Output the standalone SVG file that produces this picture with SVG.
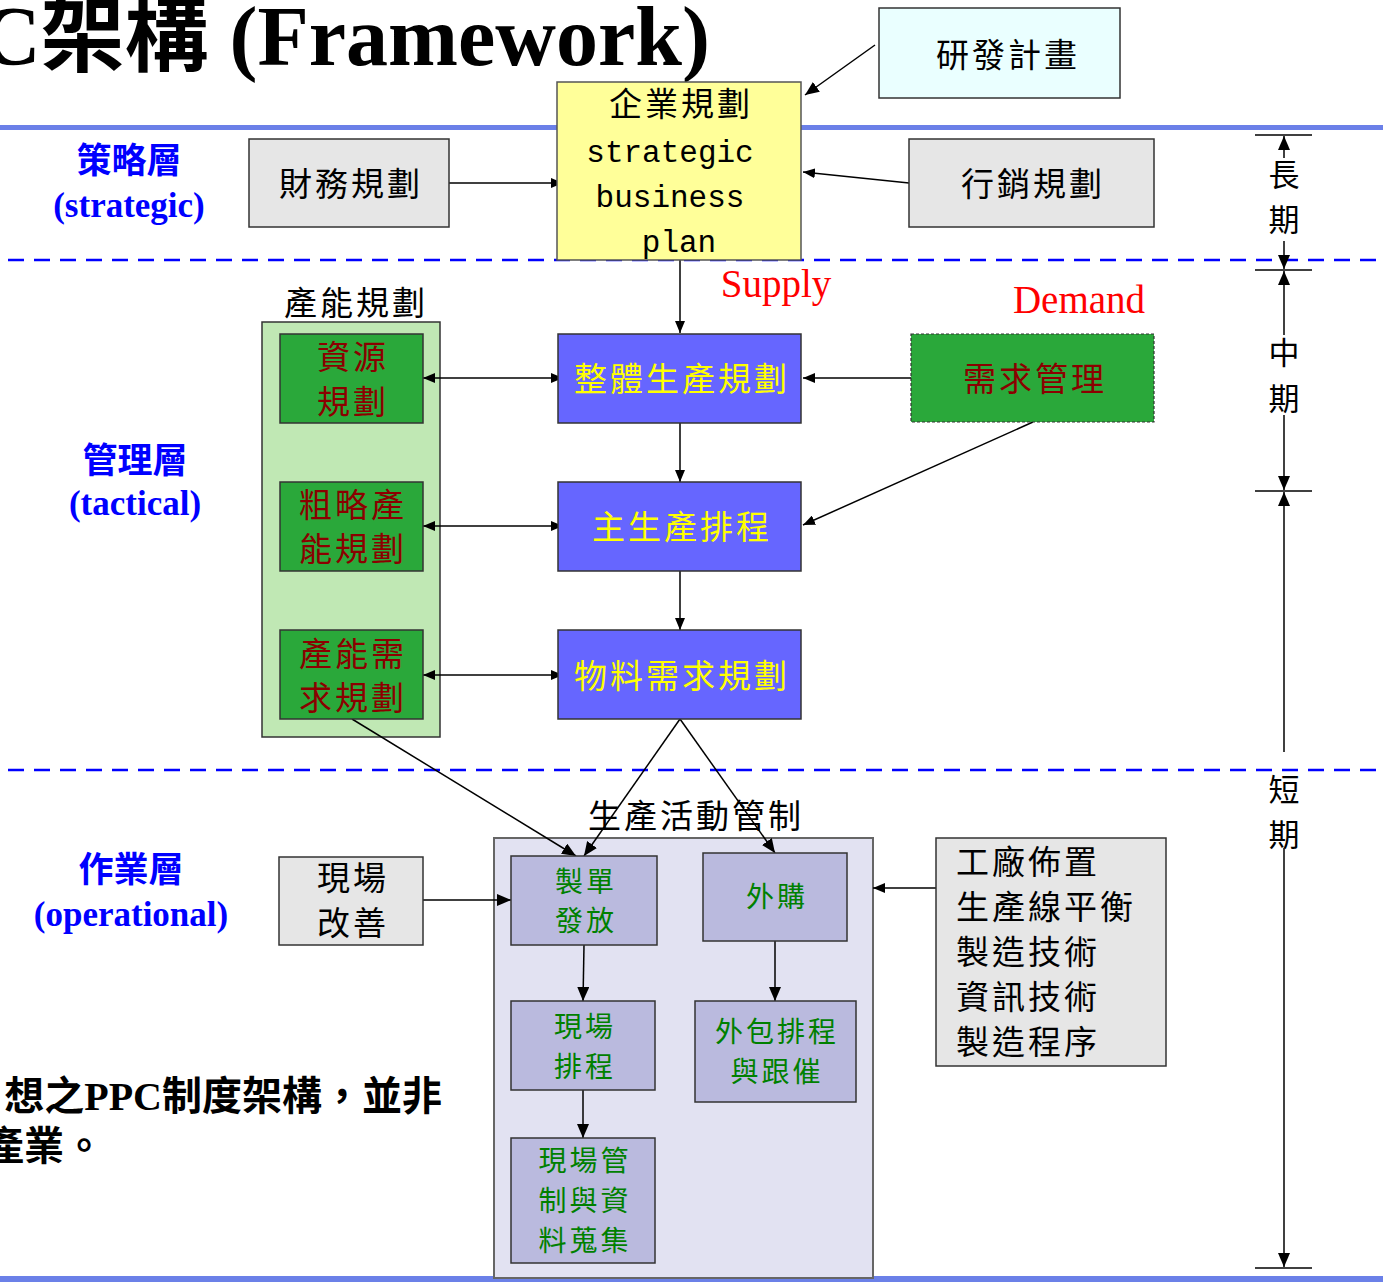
<svg xmlns="http://www.w3.org/2000/svg" width="1383" height="1283" viewBox="0 0 1383 1283">
<style>
.lbl{font-family:"Liberation Serif","Noto Sans CJK TC",serif;font-weight:bold;fill:#0000ff;font-size:35px;text-anchor:middle;}
.t34{font-family:"Noto Sans CJK TC",sans-serif;font-size:33px;text-anchor:middle;letter-spacing:3px;}
.sm{font-size:28px;}
.box{stroke:#333;stroke-width:1.5;}
.gray{fill:#e6e6e6;}
.grn{fill:#2aa83a;}
.blu{fill:#6666ff;}
.lav{fill:#babade;}
.red{fill:#8b0000;}
.yel{fill:#ffff00;}
.gtx{fill:#008000;}
.conn line,.conn path{stroke:#000;stroke-width:1.5;fill:none;}
</style>
<defs>
<marker id="ah" viewBox="0 0 12 10" refX="12" refY="5" markerWidth="12" markerHeight="10" markerUnits="userSpaceOnUse" orient="auto-start-reverse">
<path d="M0,0 L12,5 L0,10 Z" fill="#000"/>
</marker>
<marker id="ahL" viewBox="0 0 14 12" refX="14" refY="6" markerWidth="14" markerHeight="12" markerUnits="userSpaceOnUse" orient="auto-start-reverse">
<path d="M0,0 L14,6 L0,12 Z" fill="#000"/>
</marker>
</defs>
<rect width="1383" height="1283" fill="#fff"/>

<g id="bands">
<rect x="0" y="125" width="1383" height="5" fill="#6b80e8"/>
<rect x="0" y="1276" width="1383" height="6" fill="#6b80e8"/>
<line x1="8" y1="260" x2="1383" y2="260" stroke="#0000ff" stroke-width="2.5" stroke-dasharray="16,10"/>
<line x1="8" y1="770" x2="1383" y2="770" stroke="#0000ff" stroke-width="2.5" stroke-dasharray="16,10"/>
</g>

<text x="710" y="65" text-anchor="end" font-family="Liberation Serif,'Noto Sans CJK TC',serif" font-weight="bold" font-size="84">C架構 (Framework)</text>

<g id="layer-strategic"><text class="lbl" x="129" y="173">策略層</text><text class="lbl" x="129" y="217">(strategic)</text></g>
<g id="layer-tactical"><text class="lbl" x="135" y="473">管理層</text><text class="lbl" x="135" y="515">(tactical)</text></g>
<g id="layer-operational"><text class="lbl" x="131" y="882">作業層</text><text class="lbl" x="131" y="926">(operational)</text></g>

<g id="note" font-family="Liberation Serif,'Noto Sans CJK TC',serif" font-weight="bold" font-size="40" text-anchor="end">
<text x="442" y="1110">想之PPC制度架構，並非</text>
<text x="104" y="1160">產業。</text>
</g>

<g id="capacity-planning">
<rect x="262" y="322" width="178" height="415" fill="#c0e8b4" class="box"/>
<text class="t34" x="356" y="315" font-size="32">產能規劃</text>
</g>
<g id="production-activity-control">
<rect x="494" y="838" width="379" height="440" fill="#e2e2f2" stroke="#666" stroke-width="2"/>
<text class="t34" x="696" y="828" font-size="32">生產活動管制</text>
</g>

<g id="connectors" class="conn">
<line x1="875" y1="45" x2="805" y2="95" marker-end="url(#ahL)"/>
<line x1="449" y1="183" x2="563" y2="183" marker-end="url(#ah)"/>
<line x1="909" y1="183" x2="803" y2="172" marker-end="url(#ah)"/>
<line x1="680" y1="260" x2="680" y2="333" marker-end="url(#ah)"/>
<line x1="423" y1="378" x2="563" y2="378" marker-start="url(#ah)" marker-end="url(#ah)"/>
<line x1="423" y1="526" x2="563" y2="526" marker-start="url(#ah)" marker-end="url(#ah)"/>
<line x1="423" y1="675" x2="563" y2="675" marker-start="url(#ah)" marker-end="url(#ah)"/>
<line x1="911" y1="378" x2="803" y2="378" marker-end="url(#ah)"/>
<line x1="1033" y1="422" x2="803" y2="525" marker-end="url(#ah)"/>
<line x1="680" y1="423" x2="680" y2="482" marker-end="url(#ah)"/>
<line x1="680" y1="571" x2="680" y2="630" marker-end="url(#ah)"/>
<line x1="680" y1="719" x2="584" y2="856" marker-end="url(#ahL)"/>
<line x1="680" y1="719" x2="775" y2="853" marker-end="url(#ahL)"/>
<line x1="352" y1="719" x2="576" y2="856" marker-end="url(#ahL)"/>
<line x1="423" y1="900" x2="511" y2="900" marker-end="url(#ahL)"/>
<line x1="936" y1="888" x2="873" y2="888" marker-end="url(#ah)"/>
<line x1="584" y1="945" x2="583" y2="1001" marker-end="url(#ahL)"/>
<line x1="583" y1="1090" x2="583" y2="1138" marker-end="url(#ahL)"/>
<line x1="775" y1="941" x2="775" y2="1001" marker-end="url(#ahL)"/>
</g>

<g id="rd-plan">
<rect x="879" y="8" width="241" height="90" fill="#eaffff" class="box"/>
<text class="t34" x="1008" y="67" font-size="34" letter-spacing="8">研發計畫</text>
</g>
<g id="strategic-business-plan">
<rect x="557" y="82" width="244" height="178" fill="#ffff99" stroke="#555" stroke-width="1.5"/>
<text class="t34" x="681" y="116">企業規劃</text>
<g font-family="Liberation Mono,monospace" font-size="31" text-anchor="middle">
<text x="670" y="162">strategic</text>
<text x="670" y="207">business</text>
<text x="679" y="252">plan</text>
</g>
</g>
<g id="finance-plan">
<rect x="249" y="139" width="200" height="88" class="box gray"/>
<text class="t34" x="351" y="196">財務規劃</text>
</g>
<g id="marketing-plan">
<rect x="909" y="139" width="245" height="88" class="box gray"/>
<text class="t34" x="1033" y="196">行銷規劃</text>
</g>

<text x="776" y="297" text-anchor="middle" font-family="Liberation Serif,serif" font-size="39" fill="#ff0000">Supply</text>
<text x="1079" y="313" text-anchor="middle" font-family="Liberation Serif,serif" font-size="39" fill="#ff0000">Demand</text>

<g id="resource-planning">
<rect x="280" y="334" width="143" height="89" class="box grn"/>
<text class="t34 red" x="353" y="369">資源</text><text class="t34 red" x="353" y="414">規劃</text>
</g>
<g id="rough-cut-capacity">
<rect x="280" y="482" width="143" height="89" class="box grn"/>
<text class="t34 red" x="353" y="517">粗略產</text><text class="t34 red" x="353" y="561">能規劃</text>
</g>
<g id="capacity-requirements">
<rect x="280" y="630" width="143" height="89" class="box grn"/>
<text class="t34 red" x="353" y="666">產能需</text><text class="t34 red" x="353" y="710">求規劃</text>
</g>

<g id="aggregate-planning">
<rect x="558" y="334" width="243" height="89" class="box blu"/>
<text class="t34 yel" x="682" y="391">整體生產規劃</text>
</g>
<g id="mps">
<rect x="558" y="482" width="243" height="89" class="box blu"/>
<text class="t34 yel" x="682" y="539">主生產排程</text>
</g>
<g id="mrp">
<rect x="558" y="630" width="243" height="89" class="box blu"/>
<text class="t34 yel" x="682" y="688">物料需求規劃</text>
</g>
<g id="demand-management">
<rect x="911" y="334" width="243" height="88" class="grn" stroke="#333" stroke-width="1.2" stroke-dasharray="3,2"/>
<text class="t34 red" x="1035" y="391">需求管理</text>
</g>

<g id="order-release">
<rect x="511" y="856" width="146" height="89" class="box lav"/>
<text class="t34 gtx sm" x="586" y="892">製單</text><text class="t34 gtx sm" x="586" y="931">發放</text>
</g>
<g id="purchasing">
<rect x="703" y="853" width="144" height="88" class="box lav"/>
<text class="t34 gtx sm" x="777" y="907">外購</text>
</g>
<g id="shop-scheduling">
<rect x="511" y="1001" width="144" height="89" class="box lav"/>
<text class="t34 gtx sm" x="585" y="1037">現場</text><text class="t34 gtx sm" x="585" y="1077">排程</text>
</g>
<g id="outsourcing">
<rect x="695" y="1001" width="161" height="101" class="box lav"/>
<text class="t34 gtx sm" x="777" y="1042">外包排程</text><text class="t34 gtx sm" x="777" y="1082">與跟催</text>
</g>
<g id="shop-floor-control">
<rect x="511" y="1138" width="144" height="125" class="box lav"/>
<text class="t34 gtx sm" x="585" y="1171">現場管</text><text class="t34 gtx sm" x="585" y="1211">制與資</text><text class="t34 gtx sm" x="585" y="1251">料蒐集</text>
</g>
<g id="shop-improvement">
<rect x="279" y="857" width="144" height="88" class="box gray"/>
<text class="t34" x="353" y="890">現場</text><text class="t34" x="353" y="935">改善</text>
</g>
<g id="factory-factors">
<rect x="936" y="838" width="230" height="228" class="box gray"/>
<g font-family="'Noto Sans CJK TC',sans-serif" font-size="33" letter-spacing="3">
<text x="956" y="874">工廠佈置</text>
<text x="956" y="919">生產線平衡</text>
<text x="956" y="964">製造技術</text>
<text x="956" y="1009">資訊技術</text>
<text x="956" y="1054">製造程序</text>
</g>
</g>

<g id="timeline" class="conn">
<line x1="1255" y1="135" x2="1312" y2="135"/>
<line x1="1255" y1="270" x2="1312" y2="270"/>
<line x1="1255" y1="491" x2="1312" y2="491"/>
<line x1="1255" y1="1268" x2="1312" y2="1268"/>
<line x1="1284" y1="158" x2="1284" y2="136" marker-end="url(#ahL)"/>
<line x1="1284" y1="241" x2="1284" y2="269" marker-end="url(#ahL)"/>
<line x1="1284" y1="335" x2="1284" y2="271" marker-end="url(#ahL)"/>
<line x1="1284" y1="415" x2="1284" y2="490" marker-end="url(#ahL)"/>
<line x1="1284" y1="752" x2="1284" y2="492" marker-end="url(#ahL)"/>
<line x1="1284" y1="848" x2="1284" y2="1267" marker-end="url(#ahL)"/>
</g>
<g id="timeline-labels" font-family="'Noto Sans CJK TC',sans-serif" font-size="31" text-anchor="middle">
<text x="1284" y="186">長</text><text x="1284" y="231">期</text>
<text x="1284" y="364">中</text><text x="1284" y="410">期</text>
<text x="1284" y="801">短</text><text x="1284" y="846">期</text>
</g>
</svg>
